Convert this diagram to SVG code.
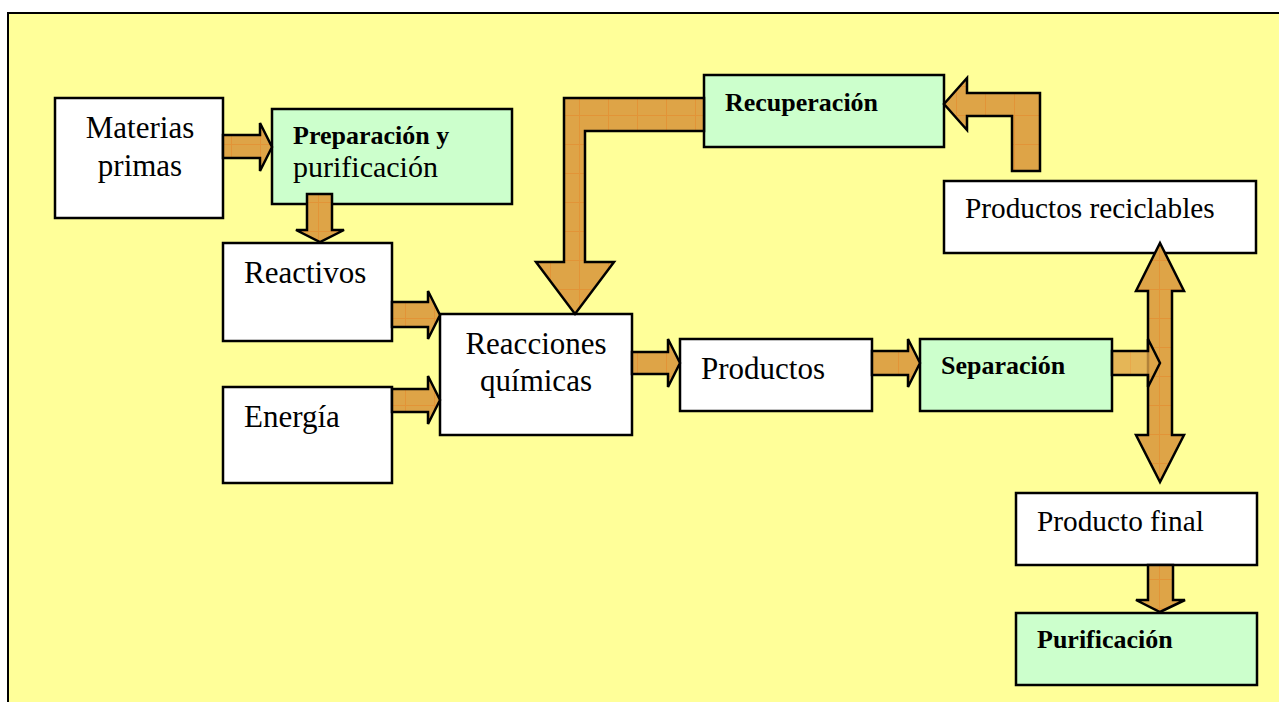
<svg xmlns="http://www.w3.org/2000/svg" width="1279" height="702" viewBox="0 0 1279 702">
<defs>
<pattern id="tex" patternUnits="userSpaceOnUse" width="29" height="29">
<rect width="29" height="29" fill="#DEA447"/>
<path d="M28.5 0V29M0 28.5H29" stroke="#E5862A" stroke-width="1" opacity="0.55"/>
</pattern>
<style>
.box{stroke:#000;stroke-width:2.5;fill:#fff}
.grn{fill:#CCFFCC}
.arr{fill:url(#tex);stroke:#000;stroke-width:2.5;stroke-linejoin:miter}
.t{font-family:"Liberation Serif","Times New Roman",serif;font-size:31px;fill:#000}
.b{font-family:"Liberation Serif","Times New Roman",serif;font-size:26px;font-weight:bold;fill:#000}
</style>
</defs>
<rect x="0" y="0" width="1279" height="702" fill="#fff"/>
<rect x="8" y="13" width="1300" height="720" fill="#FFFF99" stroke="#000" stroke-width="2"/>

<g id="n-materias"><rect class="box" x="55" y="98" width="168" height="120"/><text class="t" x="140" y="138" text-anchor="middle">Materias</text><text class="t" x="140" y="176" text-anchor="middle">primas</text></g>
<g id="n-preparacion"><rect class="box grn" x="272" y="109" width="240" height="95"/><text class="b" x="293" y="144">Preparación y</text><text class="t" x="293" y="177" style="font-size:30px">purificación</text></g>
<g id="n-reactivos"><rect class="box" x="223" y="243" width="169" height="98"/><text class="t" x="244" y="283">Reactivos</text></g>
<g id="n-energia"><rect class="box" x="223" y="387" width="169" height="96"/><text class="t" x="244" y="427">Energía</text></g>
<g id="n-reacciones"><rect class="box" x="440" y="314" width="192" height="121"/><text class="t" x="536" y="354" text-anchor="middle">Reacciones</text><text class="t" x="536" y="391" text-anchor="middle">químicas</text></g>
<g id="n-productos"><rect class="box" x="680" y="339" width="192" height="72"/><text class="t" x="701" y="379">Productos</text></g>
<g id="n-separacion"><rect class="box grn" x="920" y="339" width="192" height="72"/><text class="b" x="941" y="374">Separación</text></g>
<g id="n-recuperacion"><rect class="box grn" x="704" y="75" width="240" height="72"/><text class="b" x="725" y="111">Recuperación</text></g>
<g id="n-reciclables"><rect class="box" x="944" y="181" width="312" height="72"/><text class="t" x="965" y="218" style="font-size:29.3px">Productos reciclables</text></g>
<g id="n-final"><rect class="box" x="1016" y="493" width="241" height="72"/><text class="t" x="1037" y="531" style="font-size:29.3px">Producto final</text></g>
<g id="n-purificacion"><rect class="box grn" x="1016" y="613" width="241" height="72"/><text class="b" x="1037" y="648">Purificación</text></g>

<g id="connectors">
<polygon class="arr" points="223,135 260,135 260,123 272,147 260,171 260,158 223,158"/>
<polygon class="arr" points="307,194 332,194 332,230 344,230 320,242 296,230 307,230"/>
<polygon class="arr" points="392,302 428,302 428,291 440,315 428,339 428,327 392,327"/>
<polygon class="arr" points="392,389 428,389 428,376 440,400 428,424 428,412 392,412"/>
<polygon class="arr" points="632,352 668,352 668,339 680,363 668,387 668,374 632,374"/>
<polygon class="arr" points="872,351 908,351 908,339 920,363 908,387 908,375 872,375"/>
<polygon class="arr" points="1160,243 1184,291 1172,291 1172,435 1184,435 1160,482 1136,435 1148,435 1148,291 1136,291"/>
<polygon class="arr" points="1112,351 1148,351 1148,339 1160,363 1148,387 1148,375 1112,375" style="fill-opacity:0.8"/>
<polygon class="arr" points="1148,565 1173,565 1173,600 1185,600 1160,612 1136,600 1148,600"/>
<polygon class="arr" points="704,98 564,98 564,262 536,262 575,314 614,262 585,262 585,131 704,131"/>
<polygon class="arr" points="1040,171 1040,93 967,93 967,78 944,104 967,130 967,116 1012,116 1012,171"/>
</g>
</svg>
